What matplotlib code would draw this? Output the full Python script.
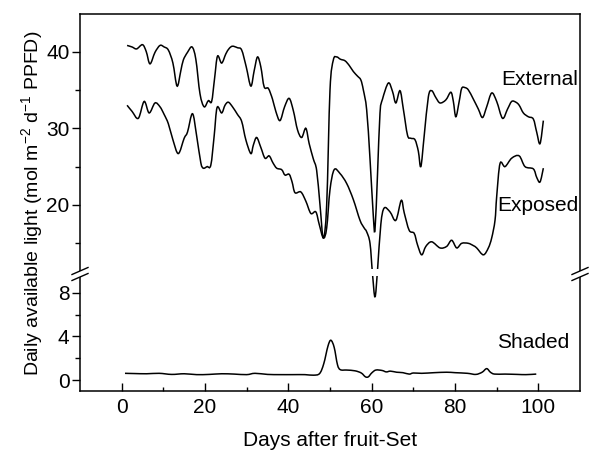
import matplotlib
matplotlib.use("Agg")
import numpy as np
import matplotlib.pyplot as plt
from matplotlib.lines import Line2D
from matplotlib.patches import Polygon, PathPatch, Rectangle
from matplotlib.path import Path

plt.rcParams['font.family'] = ['Liberation Sans', 'DejaVu Sans']
plt.rcParams['mathtext.default'] = 'regular'

# External light (upper scale)
ext_day = [1.3, 2.5, 3.6, 5.0, 5.9, 6.8, 8.0, 9.2, 10.2, 11.2, 12.3, 13.3, 14.2, 14.8,
           15.8, 16.9, 17.8, 18.8, 19.8, 20.8, 21.6, 22.3, 23.0, 24.0, 25.0, 25.8, 26.6,
           27.8, 28.8, 29.9, 31.0, 31.8, 32.6, 33.4, 34.2, 35.2, 36.2, 37.0, 38.0, 39.1,
           40.2, 41.2, 42.2, 43.2, 44.2, 45.0, 46.0, 46.8, 47.6, 48.4, 49.2, 50.0, 50.8,
           51.6, 52.5, 53.6, 54.6, 55.6, 56.6, 57.4, 58.0, 58.8, 59.6, 60.4, 60.8, 61.4,
           62.0, 62.6, 64.0, 65.0, 65.8, 66.8, 67.6, 68.6, 69.4, 70.4, 71.2, 71.8, 72.6,
           73.6, 74.4, 75.4, 76.4, 77.8, 79.0, 79.6, 80.2, 81.0, 81.6, 82.4, 83.2, 84.4,
           85.6, 86.6, 87.6, 88.8, 90.0, 91.4, 92.6, 93.6, 94.6, 95.4, 96.4, 97.6, 98.8,
           99.6, 100.4, 101.2]
ext_val = [40.8, 40.6, 40.35, 40.9, 40.0, 38.4, 39.9, 40.8, 40.6, 40.2, 38.5, 35.5, 37.5, 38.9,
           39.9, 40.6, 39.0, 34.5, 32.8, 33.6, 33.5, 36.5, 39.4, 38.5, 39.7, 40.4, 40.7,
           40.5, 40.2, 38.0, 35.5, 37.5, 39.3, 38.0, 35.4, 35.2, 33.8, 32.2, 31.0, 32.8,
           33.9, 32.3, 29.8, 28.8, 30.0, 28.0, 26.0, 24.5, 20.0, 15.7, 20.0, 35.0, 38.9,
           39.3, 39.0, 38.8, 38.2, 37.4, 36.8, 36.3, 35.0, 32.4, 26.0, 18.5, 16.8, 24.0,
           32.0, 33.8, 35.9, 34.8, 33.3, 34.9, 32.5, 29.1, 28.7, 28.5, 27.0, 25.0, 29.0,
           34.1, 34.9, 34.0, 33.3, 33.7, 34.7, 33.5, 31.5, 33.5, 35.2, 35.3, 35.0, 33.8,
           32.5, 31.4, 32.8, 34.6, 33.5, 31.3, 32.5, 33.5, 33.4, 33.0, 32.0, 31.5, 31.2,
           29.5, 28.0, 31.0]

# Exposed fruit (upper scale)
exp_day = [1.3, 2.5, 4.0, 5.4, 6.6, 8.0, 9.2, 10.2, 11.2, 12.3, 13.6, 15.0, 15.8, 17.0,
           18.0, 19.0, 19.6, 20.5, 21.4, 22.2, 22.9, 24.0, 24.8, 25.6, 26.6, 27.8, 28.8,
           29.8, 31.0, 31.6, 32.4, 33.4, 34.4, 35.4, 36.3, 37.2, 38.4, 39.2, 40.2, 40.9,
           41.6, 43.0, 44.2, 45.4, 46.6, 47.4, 48.4, 49.2, 50.0, 51.0, 52.4, 54.0, 55.6,
           57.2, 58.2, 58.8, 59.6, 60.2, 60.8, 61.4, 62.2, 63.0, 64.4, 65.8, 67.1, 67.8,
           69.0, 70.2, 71.0, 72.0, 73.0, 74.4, 76.4, 78.0, 79.2, 80.4, 81.6, 83.2, 84.4,
           85.2, 86.8, 88.0, 88.8, 89.6, 90.0, 90.8, 92.0, 93.6, 95.4, 96.8, 98.8, 99.6,
           100.4, 101.2]
exp_val = [33.0, 32.2, 31.3, 33.5, 32.0, 33.3, 32.8, 31.8, 30.6, 28.5, 26.7, 28.7, 29.5, 31.9,
           29.0, 25.5, 24.8, 25.0, 25.2, 29.0, 32.7, 32.0, 33.0, 33.4, 32.8, 31.8, 30.9,
           28.5, 26.7, 27.8, 28.8, 27.5, 26.1, 26.4, 25.5, 24.8, 24.6, 23.9, 24.0, 23.0,
           21.6, 21.7, 20.5, 18.9, 19.1, 17.5, 15.7, 17.0, 22.0, 24.6, 24.1, 22.8, 20.7,
           18.0, 17.0, 16.5, 15.0, 11.0, 8.0, 11.5, 17.5, 19.6, 19.1, 18.0, 20.6, 19.0,
           16.7, 16.3, 14.8, 13.5, 14.6, 15.2, 14.4, 14.6, 15.4, 14.4, 15.0, 15.0, 14.7,
           14.4, 13.5, 14.4, 15.7, 18.0, 21.1, 25.4, 25.0, 26.1, 26.4, 25.0, 24.7, 23.6,
           23.0, 24.8]

# Shaded fruit (lower scale)
sha_day = [0.8, 3, 6, 9, 12, 15, 18, 21, 24, 27, 30, 32, 35, 38, 41, 44, 46, 47.5, 48.5,
           49.5, 50.2, 51, 51.8, 52.5, 54, 56, 57.5, 58.5, 59.2, 60, 61, 62.5, 63.5, 64.5,
           66, 67.5, 69, 70, 72, 75, 78, 80, 83, 85, 86.5, 87.6, 88.5, 89.5, 92, 95, 97, 99.5]
sha_val = [0.62, 0.60, 0.58, 0.62, 0.52, 0.58, 0.50, 0.52, 0.58, 0.55, 0.50, 0.62, 0.52,
           0.50, 0.50, 0.50, 0.45, 0.60, 1.5, 3.1, 3.65, 3.0, 1.4, 0.95, 0.92, 0.85, 0.65,
           0.30, 0.30, 0.65, 0.92, 0.88, 0.75, 0.82, 0.72, 0.68, 0.55, 0.65, 0.62, 0.68,
           0.72, 0.68, 0.62, 0.52, 0.72, 1.05, 0.72, 0.55, 0.55, 0.52, 0.50, 0.55]


def smooth_line(ax, xs, ys, **kw):
    # draw the read points joined by a Catmull-Rom curve (bezier path)
    p = np.column_stack([xs, ys]).astype(float)
    n = len(p)
    verts = [p[0]]
    codes = [Path.MOVETO]
    for i in range(n - 1):
        p0 = p[max(i - 1, 0)]
        p1 = p[i]
        p2 = p[i + 1]
        p3 = p[min(i + 2, n - 1)]
        verts += [p1 + (p2 - p0) / 6, p2 - (p3 - p1) / 6, p2]
        codes += [Path.CURVE4] * 3
    patch = PathPatch(Path(verts, codes), fill=False, **kw)
    ax.add_patch(patch)


fig = plt.figure(figsize=(5.96, 4.5), dpi=100)
ax_bot = fig.add_axes([0.1342, 0.1311, 0.839, 0.2600])
ax_top = fig.add_axes([0.1342, 0.3911, 0.839, 0.5778])
ax_top.set_zorder(3)
ax_top.patch.set_visible(False)

lw = 1.1
smooth_line(ax_top, ext_day, ext_val, edgecolor='black', lw=lw, clip_on=False)
smooth_line(ax_top, exp_day, exp_val, edgecolor='black', lw=lw, clip_on=False)
smooth_line(ax_bot, sha_day, sha_val, edgecolor='black', lw=lw)

for ax in (ax_top, ax_bot):
    ax.set_xlim(-10, 110)
    for s in ax.spines.values():
        s.set_linewidth(1.1)

ax_top.set_ylim(11.0, 44.9)
ax_top.set_yticks([20, 30, 40])
ax_top.set_yticks([15, 25, 35], minor=True)
ax_top.spines['bottom'].set_visible(False)
ax_top.tick_params(axis='x', which='both', bottom=False, labelbottom=False)

ax_bot.set_ylim(-1.0, 9.72)
ax_bot.set_yticks([0, 4, 8])
ax_bot.set_yticks([2, 6], minor=True)
ax_bot.set_xticks([0, 20, 40, 60, 80, 100])
ax_bot.set_xticks([10, 30, 50, 70, 90], minor=True)
ax_bot.spines['top'].set_visible(False)

for ax in (ax_top, ax_bot):
    ax.tick_params(axis='y', which='major', direction='out', length=6, width=1.0,
                   labelsize=15, pad=1.5)
    ax.tick_params(axis='y', which='minor', direction='out', length=3.5, width=1.0)
ax_bot.tick_params(axis='x', which='major', direction='in', length=5.5, width=1.0,
                   labelsize=15, pad=5)
ax_bot.tick_params(axis='x', which='minor', direction='in', length=3.2, width=1.0)

ax_top.text(100.4, 36.3, 'External', ha='center', va='center', fontsize=15)
ax_top.text(100.0, 19.9, 'Exposed', ha='center', va='center', fontsize=15)
ax_bot.text(98.8, 3.4, 'Shaded', ha='center', va='center', fontsize=15)

fig.text(0.054, 0.549, 'Daily available light (mol m$^{-2}$ d$^{-1}$ PPFD)',
         rotation=90, ha='center', va='center', fontsize=14)
fig.text(0.554, 0.022, 'Days after fruit-Set', ha='center', va='center', fontsize=15)

W, H = 596, 450
# white gap across the plot where the axis is broken
fig.add_artist(Rectangle((81 / W, 1 - 276 / H), 498 / W, 7 / H, facecolor='white',
                         edgecolor='none', transform=fig.transFigure, zorder=5))
# axis break marks on both spines
for sx in (80, 580):
    y1, y2 = 271, 277
    gap = Polygon([((sx - 8) / W, 1 - (y1 + 3.5) / H), ((sx + 8) / W, 1 - (y1 - 3.5) / H),
                   ((sx + 8) / W, 1 - (y2 - 3.5) / H), ((sx - 8) / W, 1 - (y2 + 3.5) / H)],
                  closed=True, facecolor='white', edgecolor='none',
                  transform=fig.transFigure, zorder=5)
    fig.add_artist(gap)
    for yc in (y1, y2):
        fig.add_artist(Line2D([(sx - 8) / W, (sx + 8) / W],
                              [1 - (yc + 3.5) / H, 1 - (yc - 3.5) / H],
                              color='black', lw=1.0, transform=fig.transFigure, zorder=6))

fig.savefig('out.png', dpi=100)
